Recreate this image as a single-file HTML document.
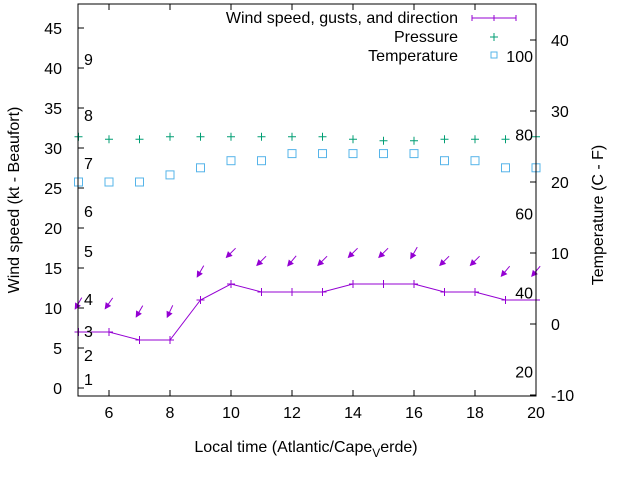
<!DOCTYPE html>
<html><head><meta charset="utf-8"><style>
body{margin:0;background:#fff}
svg{display:block;font-family:"Liberation Sans",sans-serif}
</style></head><body>
<svg id="c" width="640" height="480" viewBox="0 0 640 480">
<rect x="0" y="0" width="640" height="480" fill="#fff"/>
<g id="marks"></g>
<rect x="78" y="4" width="458" height="392" fill="none" stroke="#000" stroke-width="1"/>
<g id="axes" font-size="16" fill="#000"></g>
<text x="306" y="452" text-anchor="middle" font-size="16">Local time (Atlantic/Cape<tspan font-size="12" dy="5">V</tspan><tspan dy="-5">erde)</tspan></text>
<text transform="translate(19,200) rotate(-90)" text-anchor="middle" font-size="16">Wind speed (kt - Beaufort)</text>
<text transform="translate(603,215) rotate(-90)" text-anchor="middle" font-size="16">Temperature (C - F)</text>
<g font-size="16">
<text x="458" y="23" text-anchor="end">Wind speed, gusts, and direction</text>
<path d="M472,18H516M472,15V21M494,15V21M516,15V21" stroke="#9400d3" fill="none"/>
<text x="458" y="42" text-anchor="end">Pressure</text>
<path d="M490,37H498M494,33V41" stroke="#009e73"/>
<text x="458" y="61" text-anchor="end">Temperature</text>
<rect x="491" y="52" width="6" height="6" fill="none" stroke="#56b4e9"/>
</g>
</svg>
<script>
const hours=[5,6,7,8,9,10,11,12,13,14,15,16,17,18,19,20];
const wind=[7,7,6,6,11,13,12,12,12,13,13,13,12,12,11,11];
const gusts=[10.6,10.6,9.6,9.6,14.6,16.9,15.9,15.9,15.9,16.9,16.9,16.9,15.9,15.9,14.6,14.6];
const dirs=[30,35,30,25,30,45,45,40,45,45,45,30,45,45,40,40];
const pressure=[31.4,31.1,31.1,31.4,31.4,31.4,31.4,31.4,31.4,31.1,30.9,30.9,31.1,31.1,31.1,31.4];
const tempC=[20,20,20,21,22,23,23,24,24,24,24,24,23,23,22,22];
const xTicks=[6,8,10,12,14,16,18,20];
const yTicks=[0,5,10,15,20,25,30,35,40,45];
const y2Ticks=[-10,0,10,20,30,40];
const beaufortKt=[1,4,7,11,17,22,28,34,41];
const beaufortLabels=["1","2","3","4","5","6","7","8","9"];
const fTicks=[20,40,60,80,100];

const X=h=>78.5+(h-5)*30.5;
const Y=v=>388-v*8;
const Y2=c=>324-c*7.1;
const NS="http://www.w3.org/2000/svg";
const marks=document.getElementById('marks'), axes=document.getElementById('axes');
function mk(tag,attrs,parent){const e=document.createElementNS(NS,tag);for(const k in attrs)e.setAttribute(k,attrs[k]);parent.appendChild(e);return e;}

xTicks.forEach(t=>{
  const p=mk('path',{d:`M${X(t)},396v-6M${X(t)},4v6`,stroke:'#000'},axes);
  
  
  const l=mk('text',{x:X(t),y:418,'text-anchor':'middle'},axes);l.textContent=t;
  
  
});
yTicks.forEach(t=>{
  const p=mk('path',{d:`M78,${Y(t)}h6`,stroke:'#000'},axes);
  
  
  const l=mk('text',{x:62,y:Y(t)+6,'text-anchor':'end'},axes);l.textContent=t;
  
  
});
y2Ticks.forEach(t=>{
  const p=mk('path',{d:`M536,${Y2(t)}h-6`,stroke:'#000'},axes);
  
  
  const l=mk('text',{x:551,y:Y2(t)+6},axes);l.textContent=t;
  
  
});
beaufortKt.forEach((k,i)=>{
  const l=mk('text',{x:84,y:Y(k)+5},axes);l.textContent=beaufortLabels[i];
  
  
});
fTicks.forEach(f=>{
  const l=mk('text',{x:533,y:Y2((f-32)*5/9)+6,'text-anchor':'end'},axes);l.textContent=f;
  
  
});

hours.forEach((h,i)=>{
  const r=mk('rect',{x:X(h)-4,y:Y2(tempC[i])-4,width:8,height:8,fill:'none',stroke:'#56b4e9'},marks);
  
  
});
hours.forEach((h,i)=>{
  const x=X(h),y=Y(pressure[i]);
  const p=mk('path',{d:`M${x-4},${y}h8M${x},${y-4}v8`,stroke:'#009e73'},marks);
  
  
});
const wl=mk('polyline',{points:hours.map((h,i)=>X(h)+','+Y(wind[i])).join(' '),fill:'none',stroke:'#9400d3'},marks);


hours.forEach((h,i)=>{
  const x=X(h),y=Y(wind[i]);
  const p=mk('path',{d:`M${x-4},${y}h8M${x},${y-4}v8`,stroke:'#9400d3'},marks);
  
  
});
hours.forEach((h,i)=>{
  const cx=X(h),cy=Y(gusts[i]);
  const a=dirs[i]*Math.PI/180, L=6.5;
  const dx=Math.sin(a)*L, dy=-Math.cos(a)*L;
  const tx=cx+dx,ty=cy+dy,hx=cx-dx,hy=cy-dy;
  const ux=(hx-tx)/(2*L),uy=(hy-ty)/(2*L);
  const b1x=hx-ux*5-uy*2.5,b1y=hy-uy*5+ux*2.5,b2x=hx-ux*5+uy*2.5,b2y=hy-uy*5-ux*2.5;
  const g=mk('g',{},marks);
  
  
  mk('line',{x1:tx,y1:ty,x2:hx,y2:hy,stroke:'#9400d3'},g);
  mk('polygon',{points:`${hx},${hy} ${b1x},${b1y} ${b2x},${b2y}`,fill:'#9400d3',stroke:'#9400d3'},g);
});
</script>
</body></html>
